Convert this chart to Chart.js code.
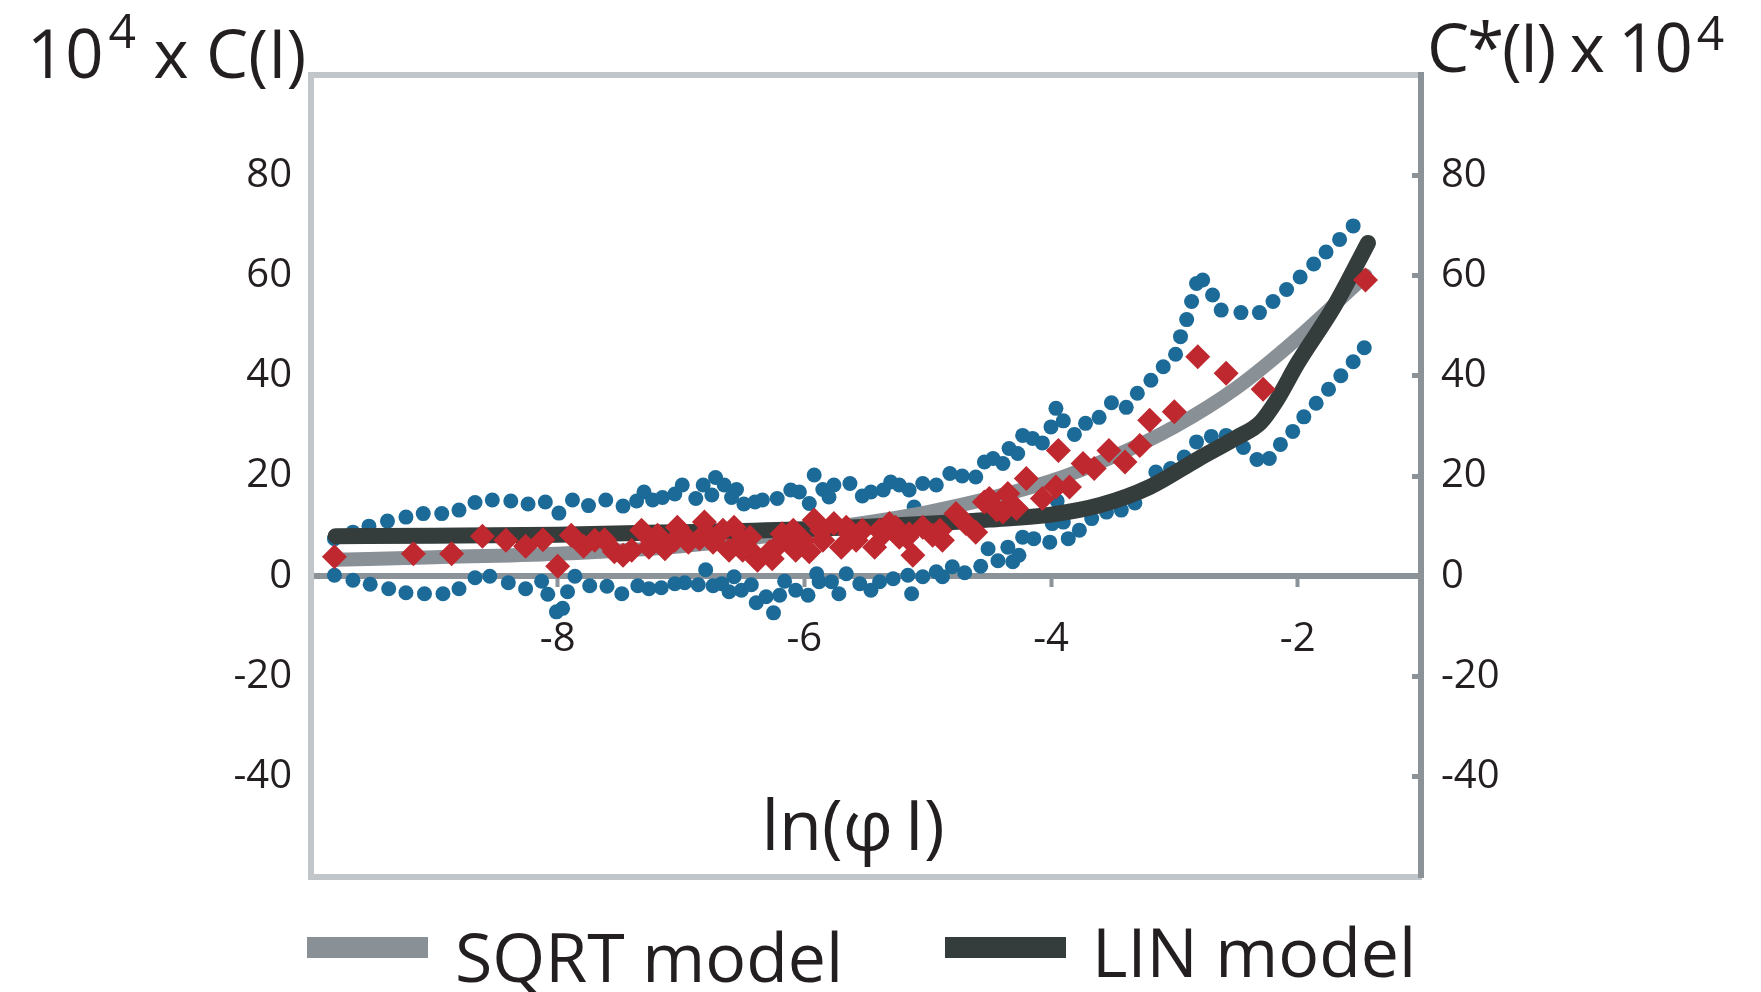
<!DOCTYPE html>
<html>
<head>
<meta charset="utf-8">
<title>C(I) and C*(I) versus ln(φI)</title>
<script src="https://cdn.jsdelivr.net/npm/chart.js@4.4.1/dist/chart.umd.min.js"></script>
<style>
  html, body { margin: 0; padding: 0; background: #ffffff; }
  #wrap { width: 1761px; height: 992px; position: relative; }
</style>
</head>
<body>
<div id="wrap"><canvas id="cChart"></canvas></div>
<script>
// --- data (x = ln(phi I), y = 10^4 x C) ---
const upperX = [-9.81, -9.66, -9.53, -9.38, -9.23, -9.09, -8.94, -8.80, -8.67, -8.53, -8.38, -8.24, -8.10, -7.99, -7.88, -7.75,
  -7.61, -7.47, -7.36, -7.30, -7.23, -7.15, -7.05, -6.99, -6.88, -6.82, -6.75, -6.72, -6.65, -6.59, -6.55, -6.49,
  -6.40, -6.34, -6.22, -6.11, -6.04, -5.96, -5.92, -5.85, -5.80, -5.76, -5.63, -5.53, -5.46, -5.36, -5.30, -5.23,
  -5.15, -5.11, -5.04, -4.93, -4.82, -4.72, -4.61, -4.54, -4.47, -4.39, -4.34, -4.27, -4.23, -4.15, -4.07, -4.00,
  -3.96, -3.90, -3.81, -3.72, -3.61, -3.51, -3.39, -3.30, -3.19, -3.09, -2.99, -2.95, -2.90, -2.86, -2.82, -2.77,
  -2.69, -2.62, -2.46, -2.31, -2.20, -2.09, -1.98, -1.87, -1.77, -1.66, -1.55];
const upperY = [7.5, 8.8, 10.0, 11.0, 11.8, 12.5, 12.5, 13.2, 14.7, 15.2, 15.0, 14.4, 14.8, 12.6, 15.2, 14.1,
  15.2, 14.0, 15.0, 16.8, 15.2, 15.7, 16.4, 18.2, 15.5, 18.2, 16.2, 19.7, 18.2, 15.7, 17.3, 14.4,
  14.8, 15.2, 15.5, 17.2, 16.8, 14.5, 20.2, 17.3, 15.8, 18.2, 18.5, 16.0, 16.8, 17.2, 18.8, 18.2,
  17.2, 13.8, 18.5, 18.2, 20.5, 20.0, 19.8, 22.8, 23.5, 22.5, 25.5, 24.5, 28.1, 27.5, 26.6, 29.8,
  33.5, 31.0, 28.3, 30.5, 31.7, 34.6, 33.7, 36.5, 39.1, 41.8, 44.3, 47.8, 51.2, 54.8, 58.4, 59.1,
  56.1, 53.1, 52.6, 52.6, 54.8, 57.2, 59.7, 62.3, 64.7, 67.2, 69.9];

const lowerX = [-9.81, -9.66, -9.52, -9.37, -9.23, -9.08, -8.93, -8.80, -8.67, -8.55, -8.40, -8.26, -8.13, -8.08, -8.01, -7.96,
  -7.92, -7.86, -7.74, -7.60, -7.48, -7.35, -7.26, -7.16, -7.05, -6.97, -6.86, -6.80, -6.74, -6.67, -6.61, -6.57,
  -6.51, -6.43, -6.39, -6.31, -6.25, -6.20, -6.16, -6.07, -5.97, -5.90, -5.88, -5.78, -5.72, -5.66, -5.55, -5.46,
  -5.39, -5.28, -5.16, -5.13, -5.04, -4.93, -4.88, -4.80, -4.70, -4.57, -4.51, -4.43, -4.35, -4.31, -4.26, -4.23,
  -4.14, -4.01, -3.99, -3.95, -3.90, -3.86, -3.77, -3.67, -3.55, -3.43, -3.32, -3.15, -3.03, -2.92, -2.82, -2.70,
  -2.58, -2.44, -2.33, -2.23, -2.14, -2.04, -1.95, -1.85, -1.75, -1.65, -1.55, -1.46];
const lowerY = [0.2, -0.8, -1.6, -2.5, -3.3, -3.5, -3.5, -2.5, -0.3, 0.0, -1.3, -2.5, -1.0, -3.6, -7.1, -6.4,
  -3.1, 0.0, -1.9, -2.0, -3.5, -1.9, -2.5, -2.3, -1.5, -1.3, -1.7, 1.3, -1.9, -1.5, -3.1, -0.1,
  -2.8, -1.7, -5.3, -4.1, -7.3, -3.8, -1.0, -2.8, -3.8, 0.5, -1.1, -1.1, -3.5, 0.5, -1.5, -2.8,
  -1.1, -0.5, 0.2, -3.5, -0.1, 0.9, -0.1, 1.9, 0.7, 2.0, 5.5, 3.1, 5.8, 2.9, 4.2, 7.8,
  7.5, 6.8, 10.5, 15.0, 10.8, 7.5, 9.2, 11.5, 12.8, 13.2, 14.6, 20.8, 21.5, 23.8, 26.8, 27.9,
  28.1, 25.7, 23.3, 23.5, 26.3, 28.9, 31.8, 34.5, 37.3, 40.0, 42.8, 45.6];

const starX = [-9.81, -9.17, -8.86, -8.61, -8.42, -8.26, -8.12, -8.00, -7.89, -7.79, -7.70, -7.62, -7.54, -7.47, -7.40, -7.32,
  -7.26, -7.19, -7.13, -7.05, -7.03, -6.96, -6.94, -6.85, -6.81, -6.76, -6.74, -6.66, -6.61, -6.57, -6.50, -6.50,
  -6.44, -6.44, -6.38, -6.28, -6.26, -6.20, -6.18, -6.11, -6.09, -6.07, -6.01, -5.96, -5.92, -5.86, -5.85, -5.76,
  -5.70, -5.66, -5.63, -5.58, -5.53, -5.43, -5.39, -5.36, -5.31, -5.26, -5.23, -5.17, -5.15, -5.12, -5.04, -4.96,
  -4.90, -4.88, -4.77, -4.69, -4.61, -4.54, -4.50, -4.44, -4.39, -4.35, -4.28, -4.20, -4.07, -3.96, -3.94, -3.85,
  -3.74, -3.65, -3.53, -3.40, -3.28, -3.20, -3.00, -2.81, -2.58, -2.28, -1.45];
const starY = [3.9, 4.5, 4.5, 8.0, 7.2, 6.0, 7.3, 2.0, 8.2, 6.0, 7.2, 7.3, 4.9, 4.2, 5.2, 9.2,
  5.8, 8.2, 5.5, 7.2, 9.8, 7.8, 6.8, 7.5, 10.8, 7.8, 6.8, 9.2, 5.2, 9.8, 5.2, 7.2,
  7.8, 5.2, 3.2, 4.9, 3.5, 6.5, 8.5, 7.5, 9.2, 5.2, 7.2, 4.9, 11.2, 9.2, 7.2, 10.5,
  5.8, 9.8, 8.5, 7.2, 9.2, 5.8, 9.2, 8.5, 10.5, 9.8, 7.8, 7.8, 8.5, 4.2, 9.8, 8.2,
  9.2, 7.2, 12.5, 10.5, 8.8, 14.8, 15.5, 13.2, 12.8, 16.5, 13.5, 19.5, 15.5, 17.8, 25.1, 17.8,
  22.5, 21.5, 25.1, 22.8, 26.1, 31.1, 32.8, 43.8, 40.5, 37.3, 59.1];

const sqrtX = [-9.8, -9.0, -8.0, -7.0, -6.0, -5.0, -4.0, -3.5, -3.0, -2.5, -2.0, -1.45];
const sqrtY = [3.3, 3.8, 4.5, 6.0, 9.0, 12.8, 19.0, 23.8, 29.8, 37.5, 47.5, 60.0];

const linX = [-9.8, -9.0, -8.0, -7.0, -6.0, -5.0, -4.5, -4.0, -3.6, -3.2, -2.8, -2.5, -2.3, -2.17, -2.0, -1.7, -1.43];
const linY = [8.0, 8.1, 8.3, 8.8, 9.4, 10.5, 11.3, 12.3, 14.2, 17.8, 23.5, 27.6, 30.7, 35.1, 42.5, 54.0, 66.5];

const xTicks = [-8, -6, -4, -2];
const yTicks = [-40, -20, 0, 20, 40, 60, 80];

// --- styling ---
const FONT = '"Open Sans", "Noto Sans", sans-serif';
const TEXT = '#231f20';
const LIGHT_AXIS = '#c1c6cb';
const DARK_AXIS = '#8b9298';
const BLUE = '#1b6a98';
const RED = '#be282e';
const SQRT_GREY = '#899096';
const LIN_DARK = '#353d3c';

function toPoints(xs, ys) {
    return xs.map((x, i) => ({ x: x, y: ys[i] }));
}

// titles, axis name and legend drawn onto the canvas
const annotations = {
    id: 'annotations',
    afterDraw(chart) {
        const ctx = chart.ctx;
        ctx.save();
        ctx.fillStyle = TEXT;
        ctx.textBaseline = 'alphabetic';
        ctx.textAlign = 'left';

        // left title: 10^4 x C(I)
        let x = 27;
        ctx.font = '67px ' + FONT;
        ctx.fillText('10', x, 78);
        x += ctx.measureText('10').width + 5;
        ctx.font = '48px ' + FONT;
        ctx.fillText('4', x, 48);
        x += ctx.measureText('4').width;
        ctx.font = '67px ' + FONT;
        ctx.fillText(' x C(I)', x, 78);

        // right title: C*(I) x 10^4
        x = 1427;
        ctx.letterSpacing = '-2px';
        ctx.fillText('C*(I) x 10', x, 72);
        x += ctx.measureText('C*(I) x 10').width + 6;
        ctx.letterSpacing = '0px';
        ctx.font = '48px ' + FONT;
        ctx.fillText('4', x, 50);

        // x axis name, inside the plot
        ctx.font = '70px ' + FONT;
        ctx.textAlign = 'center';
        ctx.fillText('ln(φ\u2009I)', 853, 850);

        // legend for the two model curves
        ctx.textAlign = 'left';
        ctx.font = '68px ' + FONT;
        const items = chart.data.datasets.filter(d => d.inLegend);
        const boxX = [307, 945];
        const textX = [455, 1092];
        const baseY = [982, 977];
        items.forEach((d, i) => {
            ctx.fillStyle = d.borderColor;
            ctx.fillRect(boxX[i], 937, 121, 21);
            ctx.fillStyle = TEXT;
            ctx.fillText(d.label, textX[i], baseY[i]);
        });
        ctx.restore();
    }
};

const ctx = document.getElementById('cChart').getContext('2d');

new Chart(ctx, {
    type: 'scatter',
    data: {
        datasets: [
            {
                label: 'C*(I)',
                data: toPoints(starX, starY),
                pointStyle: 'rectRot',
                pointRadius: 12.5,
                pointBackgroundColor: RED,
                pointBorderWidth: 0,
                order: 0,
                xAxisID: 'x',
                yAxisID: 'y'
            },
            {
                label: 'SQRT model',
                inLegend: true,
                data: toPoints(sqrtX, sqrtY),
                showLine: true,
                borderColor: SQRT_GREY,
                borderWidth: 14,
                borderCapStyle: 'round',
                borderJoinStyle: 'round',
                cubicInterpolationMode: 'monotone',
                pointRadius: 0,
                order: 2,
                xAxisID: 'x',
                yAxisID: 'y'
            },
            {
                label: 'LIN model',
                inLegend: true,
                data: toPoints(linX, linY),
                showLine: true,
                borderColor: LIN_DARK,
                borderWidth: 16,
                borderCapStyle: 'round',
                borderJoinStyle: 'round',
                cubicInterpolationMode: 'monotone',
                pointRadius: 0,
                order: 1,
                xAxisID: 'x',
                yAxisID: 'y'
            },
            {
                label: 'C(I) upper',
                data: toPoints(upperX, upperY),
                pointStyle: 'circle',
                pointRadius: 7.5,
                pointBackgroundColor: BLUE,
                pointBorderWidth: 0,
                order: 3,
                xAxisID: 'x',
                yAxisID: 'y'
            },
            {
                label: 'C(I) lower',
                data: toPoints(lowerX, lowerY),
                pointStyle: 'circle',
                pointRadius: 7.5,
                pointBackgroundColor: BLUE,
                pointBorderWidth: 0,
                order: 3,
                xAxisID: 'x',
                yAxisID: 'y'
            }
        ]
    },
    options: {
        responsive: true,
        maintainAspectRatio: false,
        animation: false,
        devicePixelRatio: 1,
        layout: { padding: { top: 75, bottom: 115, left: 0, right: 0 } },
        plugins: {
            legend: { display: false },
            tooltip: { enabled: false },
            title: { display: false }
        },
        scales: {
            x: {
                type: 'linear',
                axis: 'x',
                position: { y: 0 },
                min: -10,
                max: -1,
                afterBuildTicks: s => { s.ticks = xTicks.map(v => ({ value: v })); },
                grid: { drawOnChartArea: false, drawTicks: true, tickLength: 8, tickWidth: 4, color: DARK_AXIS },
                border: { color: DARK_AXIS, width: 6 },
                ticks: { color: TEXT, font: { family: FONT, size: 40 }, padding: 31, maxRotation: 0, autoSkip: false }
            },
            xTop: {
                type: 'linear',
                axis: 'x',
                position: 'top',
                min: -10,
                max: -1,
                afterFit: s => { s.height = 0; },
                grid: { drawOnChartArea: false, drawTicks: false },
                border: { color: LIGHT_AXIS, width: 6 },
                ticks: { display: false }
            },
            xBottom: {
                type: 'linear',
                axis: 'x',
                position: 'bottom',
                min: -10,
                max: -1,
                afterFit: s => { s.height = 0; },
                grid: { drawOnChartArea: false, drawTicks: false },
                border: { color: LIGHT_AXIS, width: 6 },
                ticks: { display: false }
            },
            y: {
                type: 'linear',
                position: 'left',
                min: -60,
                max: 100,
                afterBuildTicks: s => { s.ticks = yTicks.map(v => ({ value: v })); },
                afterFit: s => { s.width = 311; },
                grid: { drawOnChartArea: false, drawTicks: false },
                border: { color: LIGHT_AXIS, width: 6 },
                ticks: { color: TEXT, font: { family: FONT, size: 40 }, padding: 19 }
            },
            y2: {
                type: 'linear',
                position: 'right',
                min: -60,
                max: 100,
                afterBuildTicks: s => { s.ticks = yTicks.map(v => ({ value: v })); },
                afterFit: s => { s.width = 340; },
                grid: { drawOnChartArea: false, drawTicks: true, tickLength: -9, tickWidth: 5, color: DARK_AXIS },
                border: { color: DARK_AXIS, width: 6 },
                ticks: { color: TEXT, font: { family: FONT, size: 40 }, padding: 29 }
            }
        }
    },
    plugins: [annotations]
});
</script>
</body>
</html>
